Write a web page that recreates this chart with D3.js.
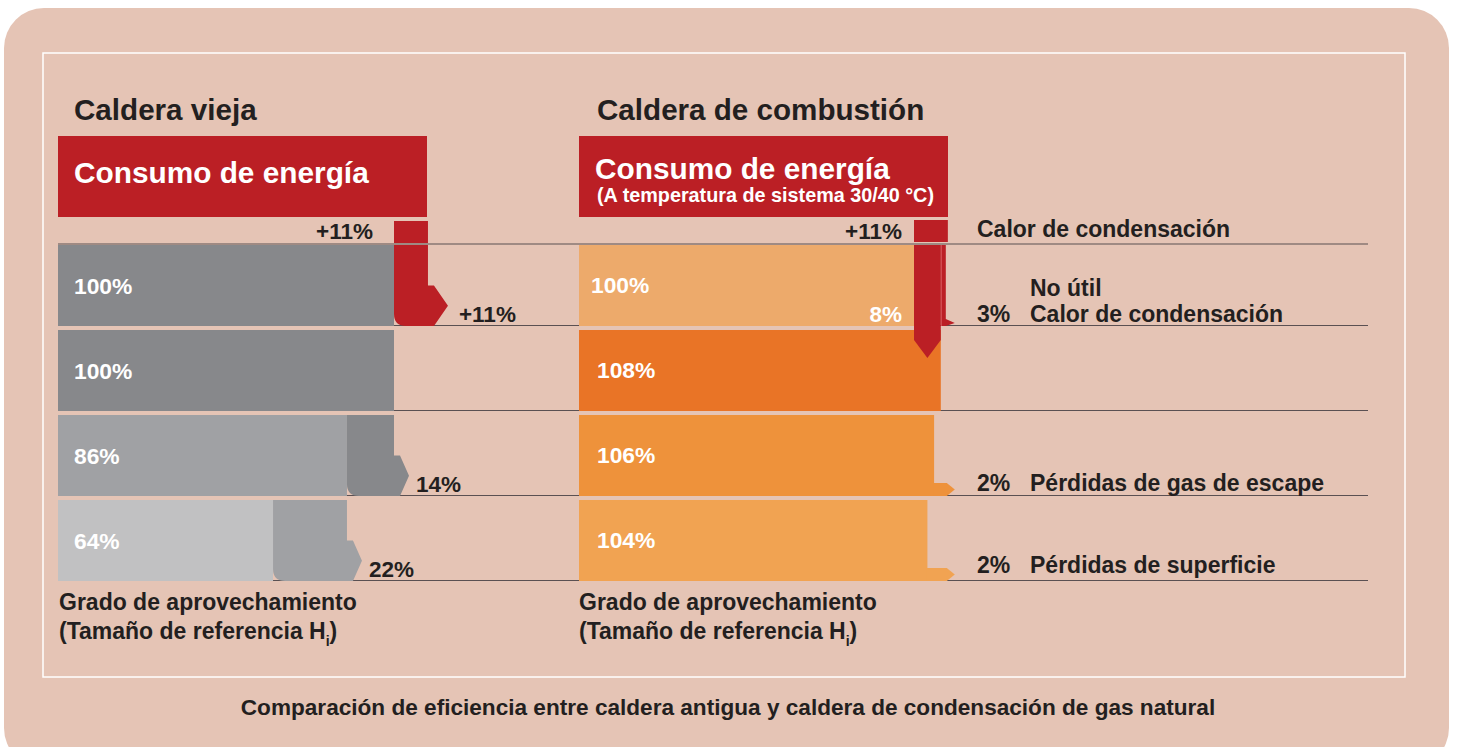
<!DOCTYPE html>
<html>
<head>
<meta charset="utf-8">
<script src="https://cdn.jsdelivr.net/npm/d3@7"></script>
<style>
  body { margin: 0; background: #ffffff; }
  svg text { font-family: "Liberation Sans", Arial, sans-serif; font-weight: bold; }
</style>
</head>
<body>
<div id="chart"></div>
<script>
// Datos
var rows = [0, 1, 2, 3];

// Caldera vieja
var leftTitle = "Caldera vieja";
var leftBase = [100, 100, 86, 64];
var leftLabels = ["100%", "100%", "86%", "64%"];
var leftArrows = [
  {row: 0, from: 100, to: 111, label: "+11%"},
  {row: 2, from: 86, to: 100, label: "14%"},
  {row: 3, from: 64, to: 86, label: "22%"}
];
var leftGain = {from: 100, to: 111, label: "+11%"};

// Caldera de condensación
var rightTitle = "Caldera de combustión";
var rightBase = [100, 108, 106, 104];
var rightLabels = ["100%", "108%", "106%", "104%"];
var rightGain = {from: 100, to: 111, label: "+11%", text: "Calor de condensación"};
var rightUseful = {from: 100, to: 108, label: "8%"};
var rightUnused = {at: 108, label: "3%", text1: "No útil", text2: "Calor de condensación"};
var rightLosses = [
  {row: 2, from: 106, to: 108, label: "2%", text: "Pérdidas de gas de escape"},
  {row: 3, from: 104, to: 108, label: "2%", text: "Pérdidas de superficie"}
];

var headerText = "Consumo de energía";
var headerSub = "(A temperatura de sistema 30/40 °C)";
var footLine1 = "Grado de aprovechamiento";
var footLine2 = "(Tamaño de referencia H";
var caption = "Comparación de eficiencia entre caldera antigua y caldera de condensación de gas natural";

// Colores
var red = "#bb1f25",
    ink = "#231f20",
    bg = "#e5c4b5";
var leftFill = ["#87888b", "#87888b", "#a0a1a4", "#c1c1c2"];
var leftArrowFill = ["#bb1f25", null, "#87888b", "#a0a1a4"];
var rightFill = ["#edaa6b", "#e97426", "#ee923b", "#f1a352"];

var width = 1457, height = 747;

var svg = d3.select("#chart").append("svg")
  .attr("width", width)
  .attr("height", height);

// Fondo
svg.append("rect")
  .attr("x", 4).attr("y", 8)
  .attr("width", 1445).attr("height", 760)
  .attr("rx", 40)
  .attr("fill", bg);

svg.append("rect")
  .attr("x", 43).attr("y", 53)
  .attr("width", 1362).attr("height", 624)
  .attr("fill", "none")
  .attr("stroke", "#ffffff")
  .attr("stroke-width", 1.5);

// Escalas
var y = d3.scaleBand().domain(rows).range([241, 581]);
var xl = d3.scaleLinear().domain([0, 100]).range([58, 394]);
var xr = d3.scaleLinear().domain([0, 100]).range([579, 914]);

// Líneas horizontales
var lineYs = [244].concat(rows.map(function(d) { return y(d) + y.bandwidth() - 0.5; }));
svg.selectAll("line.grid")
  .data(lineYs)
  .enter().append("line")
  .attr("class", "grid")
  .attr("x1", 58).attr("x2", 1368)
  .attr("y1", function(d) { return d; })
  .attr("y2", function(d) { return d; })
  .attr("stroke", "#5a5052")
  .attr("stroke-width", 1.2);

function barTop(r) { return y(r) + 4; }
function barBot(r) { return y(r) + y.bandwidth(); }

// Flecha con esquina redondeada
function arrowPath(xa, xb, yt, yb, ext, tip, r) {
  var ym = (yt + yb) / 2;
  return "M" + xa + "," + yt + "H" + xb + "V" + ym + "H" + (xb + ext) +
    "L" + (xb + tip) + "," + ((ym + yb) / 2) + "L" + (xb + ext) + "," + yb +
    "H" + (xa + r) + "Q" + xa + "," + yb + " " + xa + "," + (yb - r) + "Z";
}

function title(x, t) {
  svg.append("text").attr("x", x).attr("y", 120)
    .style("font-size", "29.6px").attr("fill", ink).text(t);
}

// Cabecera
function header(x0, x1, sub) {
  svg.append("rect")
    .attr("x", x0).attr("y", 136)
    .attr("width", x1 - x0).attr("height", 81)
    .attr("fill", red);
  svg.append("text")
    .attr("x", x0 + 16).attr("y", sub ? 179 : 183)
    .style("font-size", "29.8px").attr("fill", "#fff").text(headerText);
  if (sub) {
    svg.append("text")
      .attr("x", x0 + 18).attr("y", 202)
      .style("font-size", "19.8px").attr("fill", "#fff").text(sub);
  }
}

function foot(x) {
  svg.append("text").attr("x", x).attr("y", 610)
    .style("font-size", "23px").attr("fill", ink).text(footLine1);
  var t = svg.append("text").attr("x", x).attr("y", 639)
    .style("font-size", "23px").attr("fill", ink);
  t.append("tspan").text(footLine2);
  t.append("tspan").attr("dy", 7).style("font-size", "14px").text("i");
  t.append("tspan").attr("dy", -7).text(")");
}

// ---------- Caldera vieja ----------
title(74, leftTitle);
header(58, 427, null);

svg.selectAll("rect.lbar")
  .data(leftBase)
  .enter().append("rect")
  .attr("class", "lbar")
  .attr("x", xl(0))
  .attr("y", function(d, i) { return barTop(i); })
  .attr("width", function(d) { return xl(d) - xl(0); })
  .attr("height", function(d, i) { return barBot(i) - barTop(i); })
  .attr("fill", function(d, i) { return leftFill[i]; });

// cuadrado +11% arriba
svg.append("rect")
  .attr("x", xl(leftGain.from)).attr("y", 221)
  .attr("width", xl(leftGain.to) - xl(leftGain.from) - 3).attr("height", 22)
  .attr("fill", red);
svg.append("text")
  .attr("x", xl(leftGain.from) - 21).attr("y", 239)
  .attr("text-anchor", "end")
  .style("font-size", "22.5px").attr("fill", ink).text(leftGain.label);

svg.selectAll("path.larrow")
  .data(leftArrows)
  .enter().append("path")
  .attr("class", "larrow")
  .attr("d", function(d) {
    var w = d.row === 0 ? 3 : 0;
    return arrowPath(xl(d.from), xl(d.to) - w, barTop(d.row), barBot(d.row),
      6, d.row === 0 ? 20 : 15, 12);
  })
  .attr("fill", function(d) { return leftArrowFill[d.row]; });

svg.selectAll("text.larrowlab")
  .data(leftArrows)
  .enter().append("text")
  .attr("class", "larrowlab")
  .attr("x", function(d) { return xl(d.to) + (d.row === 0 ? 28 : 22); })
  .attr("y", function(d) { return barBot(d.row) - 4; })
  .style("font-size", "22.5px").attr("fill", ink)
  .text(function(d) { return d.label; });

svg.selectAll("text.lval")
  .data(leftLabels)
  .enter().append("text")
  .attr("class", "lval")
  .attr("x", xl(0) + 16)
  .attr("y", function(d, i) { return (barTop(i) + barBot(i)) / 2 + 8; })
  .style("font-size", "22.8px").attr("fill", "#fff")
  .text(function(d) { return d; });

foot(59);

// ---------- Caldera de condensación ----------
title(597, rightTitle);
header(579, 948, headerSub);

svg.selectAll("rect.rbar")
  .data(rightBase)
  .enter().append("rect")
  .attr("class", "rbar")
  .attr("x", xr(0))
  .attr("y", function(d, i) { return barTop(i); })
  .attr("width", function(d) { return xr(d) - xr(0); })
  .attr("height", function(d, i) { return barBot(i) - barTop(i); })
  .attr("fill", function(d, i) { return rightFill[i]; });

// pérdidas (flechas pequeñas)
svg.selectAll("path.rloss")
  .data(rightLosses)
  .enter().append("path")
  .attr("class", "rloss")
  .attr("d", function(d) {
    var yb = barBot(d.row), yt = yb - 13, xa = xr(d.from) - 1, xb = xr(d.to) + 6;
    return "M" + xa + "," + yt + "H" + xb + "L" + (xb + 8) + "," + ((yt + yb) / 2) +
      "L" + xb + "," + yb + "H" + xa + "Z";
  })
  .attr("fill", function(d) { return rightFill[d.row]; });

// la fila de superficie va un poco más alta
function lossY(d) { return barBot(d.row) - (d.row === 3 ? 8 : 5); }

svg.selectAll("text.rlosspct")
  .data(rightLosses)
  .enter().append("text")
  .attr("class", "rlosspct")
  .attr("x", 977)
  .attr("y", lossY)
  .style("font-size", "23px").attr("fill", ink)
  .text(function(d) { return d.label; });

svg.selectAll("text.rlosstxt")
  .data(rightLosses)
  .enter().append("text")
  .attr("class", "rlosstxt")
  .attr("x", 1030)
  .attr("y", lossY)
  .style("font-size", "23px").attr("fill", ink)
  .text(function(d) { return d.text; });

// cuadrado +11%
svg.append("rect")
  .attr("x", xr(rightGain.from)).attr("y", 220)
  .attr("width", xr(rightGain.to) - xr(rightGain.from) - 3).attr("height", 22)
  .attr("fill", red);
svg.append("text")
  .attr("x", xr(rightGain.from) - 12).attr("y", 239)
  .attr("text-anchor", "end")
  .style("font-size", "22.5px").attr("fill", ink).text(rightGain.label);
svg.append("text")
  .attr("x", 977).attr("y", 237)
  .style("font-size", "23px").attr("fill", ink).text(rightGain.text);

// 3% no útil (barra fina)
var xu = xr(rightUnused.at);
svg.append("path")
  .attr("d", "M" + xu + "," + barTop(0) + "H" + (xu + 5) + "V" + (barBot(0) - 7) +
    "L" + (xu + 14) + "," + (barBot(0) - 3) + "L" + (xu + 5) + "," + barBot(0) + "H" + xu + "Z")
  .attr("fill", red);
svg.append("line")
  .attr("x1", xu + 0.5).attr("x2", xu + 0.5)
  .attr("y1", barTop(0)).attr("y2", barBot(0))
  .attr("stroke", "#d8555a").attr("stroke-width", 1);

// 8% flecha hacia abajo
var xa = xr(rightUseful.from), xb = xr(rightUseful.to);
svg.append("path")
  .attr("d", "M" + xa + "," + barTop(0) + "H" + xb + "V" + (barTop(1) + 10) +
    "L" + ((xa + xb) / 2) + "," + (barTop(1) + 28) + "L" + xa + "," + (barTop(1) + 10) + "Z")
  .attr("fill", red);
svg.append("text")
  .attr("x", xa - 12).attr("y", barBot(0) - 4)
  .attr("text-anchor", "end")
  .style("font-size", "22.5px").attr("fill", "#fff").text(rightUseful.label);

svg.append("text")
  .attr("x", 977).attr("y", barBot(0) - 4)
  .style("font-size", "23px").attr("fill", ink).text(rightUnused.label);
svg.append("text")
  .attr("x", 1030).attr("y", 296)
  .style("font-size", "23px").attr("fill", ink).text(rightUnused.text1);
svg.append("text")
  .attr("x", 1030).attr("y", barBot(0) - 4)
  .style("font-size", "23px").attr("fill", ink).text(rightUnused.text2);

svg.selectAll("text.rval")
  .data(rightLabels)
  .enter().append("text")
  .attr("class", "rval")
  .attr("x", function(d, i) { return xr(0) + (i === 0 ? 12 : 18); })
  .attr("y", function(d, i) { return (barTop(i) + barBot(i)) / 2 + 7; })
  .style("font-size", "22.8px").attr("fill", "#fff")
  .text(function(d) { return d; });

foot(579);

// Pie
svg.append("text")
  .attr("x", 728).attr("y", 715)
  .attr("text-anchor", "middle")
  .style("font-size", "22.6px").attr("fill", ink)
  .text(caption);
</script>
</body>
</html>
